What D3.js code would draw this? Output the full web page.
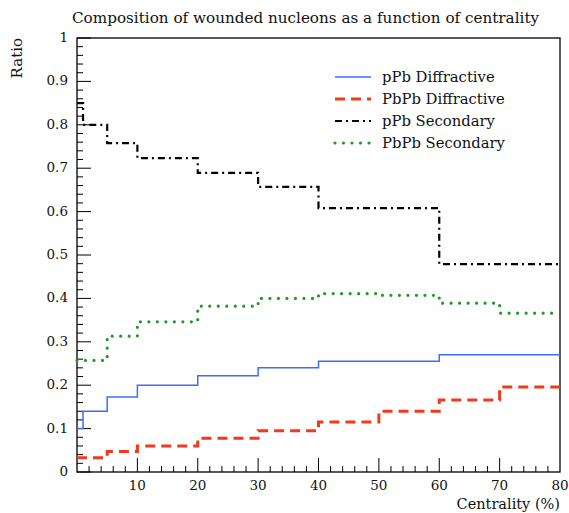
<!DOCTYPE html>
<html>
<head>
<meta charset="utf-8">
<script src="https://cdn.jsdelivr.net/npm/d3@7"></script>
<style>
body{margin:0;background:#fff;}
</style>
</head>
<body>
<script>
// bin edges in centrality (%)
var binEdges=[0,1,5,10,20,30,40,50,60,70,80];

// ratio per bin
var pPbDiffractive=[0.10,0.14,0.173,0.20,0.222,0.24,0.255,0.255,0.27,0.27];
var PbPbDiffractive=[0.033,0.033,0.047,0.06,0.078,0.095,0.115,0.14,0.166,0.196];
var pPbSecondary=[0.85,0.80,0.758,0.723,0.689,0.657,0.608,0.608,0.479,0.479];
var PbPbSecondary=[0.257,0.257,0.313,0.346,0.382,0.40,0.411,0.407,0.389,0.366];

var seriesNames=["pPb Diffractive","PbPb Diffractive","pPb Secondary","PbPb Secondary"];
var xTicks=[10,20,30,40,50,60,70,80];
var yTicks=[0,0.1,0.2,0.3,0.4,0.5,0.6,0.7,0.8,0.9,1];

window.onload=drawChart();

function drawChart(){
	var width=569,
		height=513;
	var left=77,right=560,top=38,bottom=472;
	var serif="'DejaVu Serif'";

	var svg=d3.select("body")
		.append("svg")
		.attr("width",width)
		.attr("height",height)
		.attr("font-family",serif)
		.attr("fill","#111");

	var x=d3.scaleLinear().domain([0,80]).range([left,right]);
	var y=d3.scaleLinear().domain([0,1]).range([bottom,top]);

	//styles for each histogram
	var styles=[
		{color:"#3d6cff",width:1.5,dash:null,cap:"butt"},
		{color:"#f2391c",width:3,dash:"10,6",cap:"butt"},
		{color:"#000",width:2.2,dash:"7,4,2,4",cap:"butt"},
		{color:"#1e9a28",width:3.2,dash:"0,8.5",cap:"round"}
	];
	var allSeries=[pPbDiffractive,PbPbDiffractive,pPbSecondary,PbPbSecondary];

	//minor ticks on y
	var yMinor=d3.range(0,1.0001,0.02);
	svg.selectAll(".yminor")
		.data(yMinor)
		.enter()
		.append("line")
		.attr("x1",left).attr("x2",function(d){
			return Math.abs(d*10-Math.round(d*10))<1e-6 ? left+14 : left+6;
		})
		.attr("y1",function(d){return y(d);})
		.attr("y2",function(d){return y(d);})
		.attr("stroke","#000").attr("stroke-width",1);

	//minor ticks on x
	var xMinor=d3.range(2,80,2);
	svg.selectAll(".xminor")
		.data(xMinor)
		.enter()
		.append("line")
		.attr("x1",function(d){return x(d);})
		.attr("x2",function(d){return x(d);})
		.attr("y1",bottom)
		.attr("y2",function(d){return d%10==0 ? bottom-14 : bottom-6;})
		.attr("stroke","#000").attr("stroke-width",1);

	//frame
	svg.append("rect")
		.attr("x",left).attr("y",top)
		.attr("width",right-left).attr("height",bottom-top)
		.attr("fill","none")
		.attr("stroke","#000")
		.attr("stroke-width",1.3);

	//tick labels
	svg.selectAll(".ylab")
		.data(yTicks)
		.enter()
		.append("text")
		.attr("x",left-9)
		.attr("y",function(d){return y(d)+4;})
		.attr("text-anchor","end")
		.attr("font-size",13.5)
		.text(function(d){return d3.format("~g")(d);});

	svg.selectAll(".xlab")
		.data(xTicks)
		.enter()
		.append("text")
		.attr("x",function(d){return x(d);})
		.attr("y",bottom+18)
		.attr("text-anchor","middle")
		.attr("font-size",13.5)
		.text(function(d){return d;});

	//histograms as step lines
	var line=d3.line()
		.x(function(d){return x(d[0]);})
		.y(function(d){return y(d[1]);});

	allSeries.forEach(function(vals,i){
		var pts=[];
		vals.forEach(function(v,j){
			pts.push([binEdges[j],v]);
			pts.push([binEdges[j+1],v]);
		});
		svg.append("path")
			.datum(pts)
			.attr("d",line)
			.attr("fill","none")
			.attr("stroke",styles[i].color)
			.attr("stroke-width",styles[i].width)
			.attr("stroke-dasharray",styles[i].dash)
			.attr("stroke-linecap",styles[i].cap);
	});

	//legend
	var legend=svg.append("g");
	seriesNames.forEach(function(name,i){
		var ly=77+i*22;
		legend.append("line")
			.attr("x1",335).attr("x2",371)
			.attr("y1",ly).attr("y2",ly)
			.attr("stroke",styles[i].color)
			.attr("stroke-width",styles[i].width)
			.attr("stroke-dasharray",styles[i].dash)
			.attr("stroke-linecap",styles[i].cap);
		legend.append("text")
			.attr("x",382).attr("y",ly+5)
			.attr("font-size",14.8)
			.text(name);
	});

	//titles
	svg.append("text")
		.attr("x",72).attr("y",23)
		.attr("font-size",15.2)
		.text("Composition of wounded nucleons as a function of centrality");

	svg.append("text")
		.attr("transform","translate(22,"+top+") rotate(-90)")
		.attr("text-anchor","end")
		.attr("font-size",15)
		.text("Ratio");

	svg.append("text")
		.attr("x",right).attr("y",509)
		.attr("text-anchor","end")
		.attr("font-size",14.5)
		.text("Centrality (%)");
}
</script>
</body>
</html>
